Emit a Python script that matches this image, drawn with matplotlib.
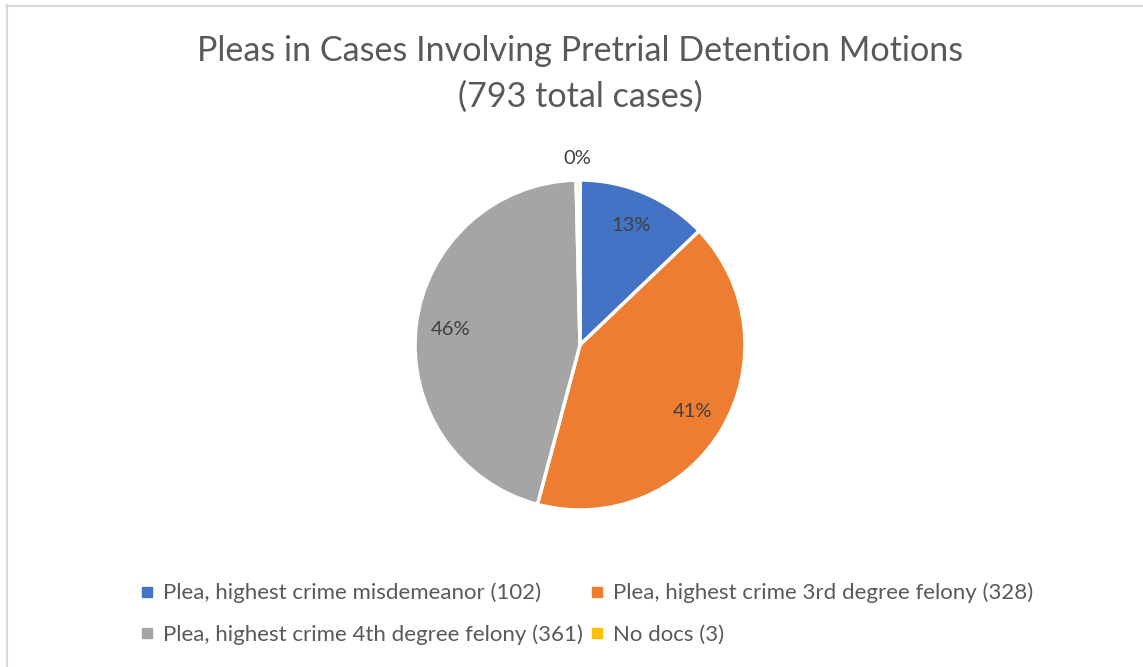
import matplotlib
matplotlib.use("Agg")
import matplotlib.pyplot as plt
from matplotlib.lines import Line2D
import numpy as np

# ---- data ----
categories = ["Plea, highest crime misdemeanor",
              "Plea, highest crime 3rd degree felony",
              "Plea, highest crime 4th degree felony",
              "No docs"]
counts = [102, 328, 361, 3]
total_cases = 793
colors = ["#4472C4", "#ED7D31", "#A5A5A5", "#FFC000"]
title = "Pleas in Cases Involving Pretrial Detention Motions\n(793 total cases)"

FONT = "Lato"
W, H = 1143, 667
fig = plt.figure(figsize=(W / 100, H / 100), dpi=100)
fig.patch.set_facecolor("white")

# border (left and top visible)
fig.add_artist(Line2D([7 / W, 7 / W], [0, 1 - 5 / H], transform=fig.transFigure,
                      color="#D9D9D9", lw=1.5))
fig.add_artist(Line2D([6 / W, 1], [1 - 6 / H, 1 - 6 / H], transform=fig.transFigure,
                      color="#D9D9D9", lw=1.5))

# pie axes: center (580,345), radius 165 px
cx, cy, half = 580, 345, 200
ax = fig.add_axes([(cx - half) / W, (H - cy - half) / H, 2 * half / W, 2 * half / H])
R = 165 / half

wedges, _ = ax.pie(counts, colors=colors, startangle=90, counterclock=False,
                   radius=R, wedgeprops=dict(edgecolor="white", linewidth=2.5))
ax.set_xlim(-1, 1)
ax.set_ylim(-1, 1)
ax.set_aspect("equal")
ax.axis("off")

for w, v in zip(wedges, counts):
    mid = np.deg2rad((w.theta1 + w.theta2) / 2)
    pct = v / total_cases * 100
    dist = 0.79 if pct >= 2 else 1.13
    ax.text(dist * R * np.cos(mid), dist * R * np.sin(mid), f"{pct:.0f}%",
            ha="center", va="center", fontsize=14.5, color="#404040", family=FONT)

fig.text(0.5074, 1 - 74 / H, title, ha="center", va="center", fontsize=24.6,
         color="#595959", family=FONT, linespacing=1.5)

# legend, row-wise order
labels = [f"{c} ({n})" for c, n in zip(categories, counts)]
handles = [Line2D([], [], marker="s", ls="", color=c, markersize=7) for c in colors]
order = [0, 2, 1, 3]
leg = fig.legend([handles[i] for i in order], [labels[i] for i in order],
                 loc="center", bbox_to_anchor=(587 / W, 1 - 614 / H), ncol=2,
                 frameon=False, prop=dict(family=FONT, size=16),
                 handlelength=0.6, handletextpad=0.4, columnspacing=0.35,
                 labelspacing=0.95, borderaxespad=0)
for t in leg.get_texts():
    t.set_color("#595959")

fig.savefig("out.png", dpi=100, facecolor="white")
